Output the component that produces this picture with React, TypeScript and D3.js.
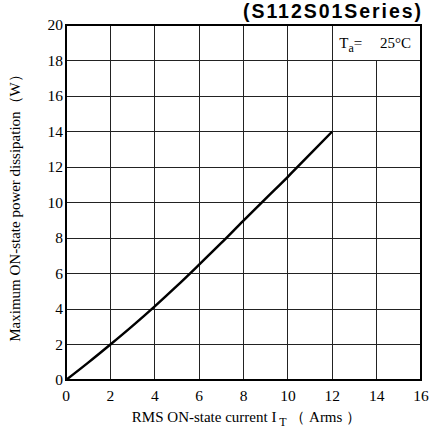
import * as d3 from "d3";

const X_TICKS = [0, 2, 4, 6, 8, 10, 12, 14, 16];
const Y_TICKS = [0, 2, 4, 6, 8, 10, 12, 14, 16, 18, 20];
const CURRENT = [0, 1, 2, 3, 4, 5, 6, 7, 8, 9, 10, 11, 12];
const POWER = [0, 0.98, 2.0, 3.05, 4.15, 5.3, 6.5, 7.72, 8.98, 10.22, 11.45, 12.72, 14.0];

const W = 430;
const H = 430;
const L = 66;
const R = 421;
const T = 25;
const B = 380;
const SERIF = "'Liberation Serif', 'Times New Roman', serif";

export default function App() {
  const x = d3.scaleLinear().domain([0, 16]).range([L, R]);
  const y = d3.scaleLinear().domain([0, 20]).range([B, T]);
  const pts: [number, number][] = CURRENT.map((c, i) => [c, POWER[i]]);
  const line = d3
    .line<[number, number]>()
    .x((d) => x(d[0]))
    .y((d) => y(d[1]))
    .curve(d3.curveMonotoneX);

  return (
    <svg width={W} height={H} style={{ position: "absolute", left: 0, top: 0, background: "#fff" }}>
      {/* grid */}
      {X_TICKS.slice(1, -1).map((t) => (
        <line
          key={"gx" + t}
          x1={x(t)}
          x2={x(t)}
          y1={t === 14 ? y(18) : y(20)}
          y2={y(0)}
          stroke="#222"
          strokeWidth={1}
          shapeRendering="crispEdges"
        />
      ))}
      {Y_TICKS.slice(1, -1).map((t) => (
        <line key={"gy" + t} x1={x(0)} x2={x(16)} y1={y(t)} y2={y(t)} stroke="#222" strokeWidth={1} shapeRendering="crispEdges" />
      ))}
      {/* frame */}
      <rect x={L} y={T} width={R - L} height={B - T} fill="none" stroke="#000" strokeWidth={2} />

      {/* legend */}
      <text x={x(12) + 7} y={y(19) + 5} fontFamily={SERIF} fontSize={15} fill="#000">
        T<tspan fontSize={12} dy={4}>a</tspan>
        <tspan dy={-4}>=</tspan>
      </text>
      <text x={R - 10} y={y(19) + 5} textAnchor="end" fontFamily={SERIF} fontSize={15} fill="#000">
        25°C
      </text>

      {/* curve */}
      <path d={line(pts) ?? ""} fill="none" stroke="#000" strokeWidth={2.5} />

      {/* y ticks */}
      {Y_TICKS.map((t) => (
        <text key={"ty" + t} x={L - 3} y={y(t) + 5} textAnchor="end" fontFamily={SERIF} fontSize={15.5} fill="#000">
          {t}
        </text>
      ))}
      {/* x ticks */}
      {X_TICKS.map((t) => (
        <text key={"tx" + t} x={x(t)} y={B + 21} textAnchor="middle" fontFamily={SERIF} fontSize={15.5} fill="#000">
          {t}
        </text>
      ))}

      {/* axis titles */}
      <text x={(L + R) / 2 + 3} y={422} textAnchor="middle" fontFamily={SERIF} fontSize={15} fill="#000">
        RMS ON-state current I<tspan fontSize={12} dy={4}>{" T"}</tspan>
        <tspan dy={-4}>{" （ Arms ）"}</tspan>
      </text>
      <text
        transform={`translate(20,${(T + B) / 2 + 2}) rotate(-90)`}
        textAnchor="middle"
        fontFamily={SERIF}
        fontSize={15}
        fill="#000"
      >
        {"Maximum ON-state power dissipation（W）"}
      </text>

      {/* title */}
      <text
        x={243}
        y={18}
        textLength={178}
        lengthAdjust="spacing"
        fontFamily="'Liberation Sans', Arial, sans-serif"
        fontWeight="bold"
        fontSize={19.5}
        fill="#000"
      >
        (S112S01Series)
      </text>
    </svg>
  );
}
